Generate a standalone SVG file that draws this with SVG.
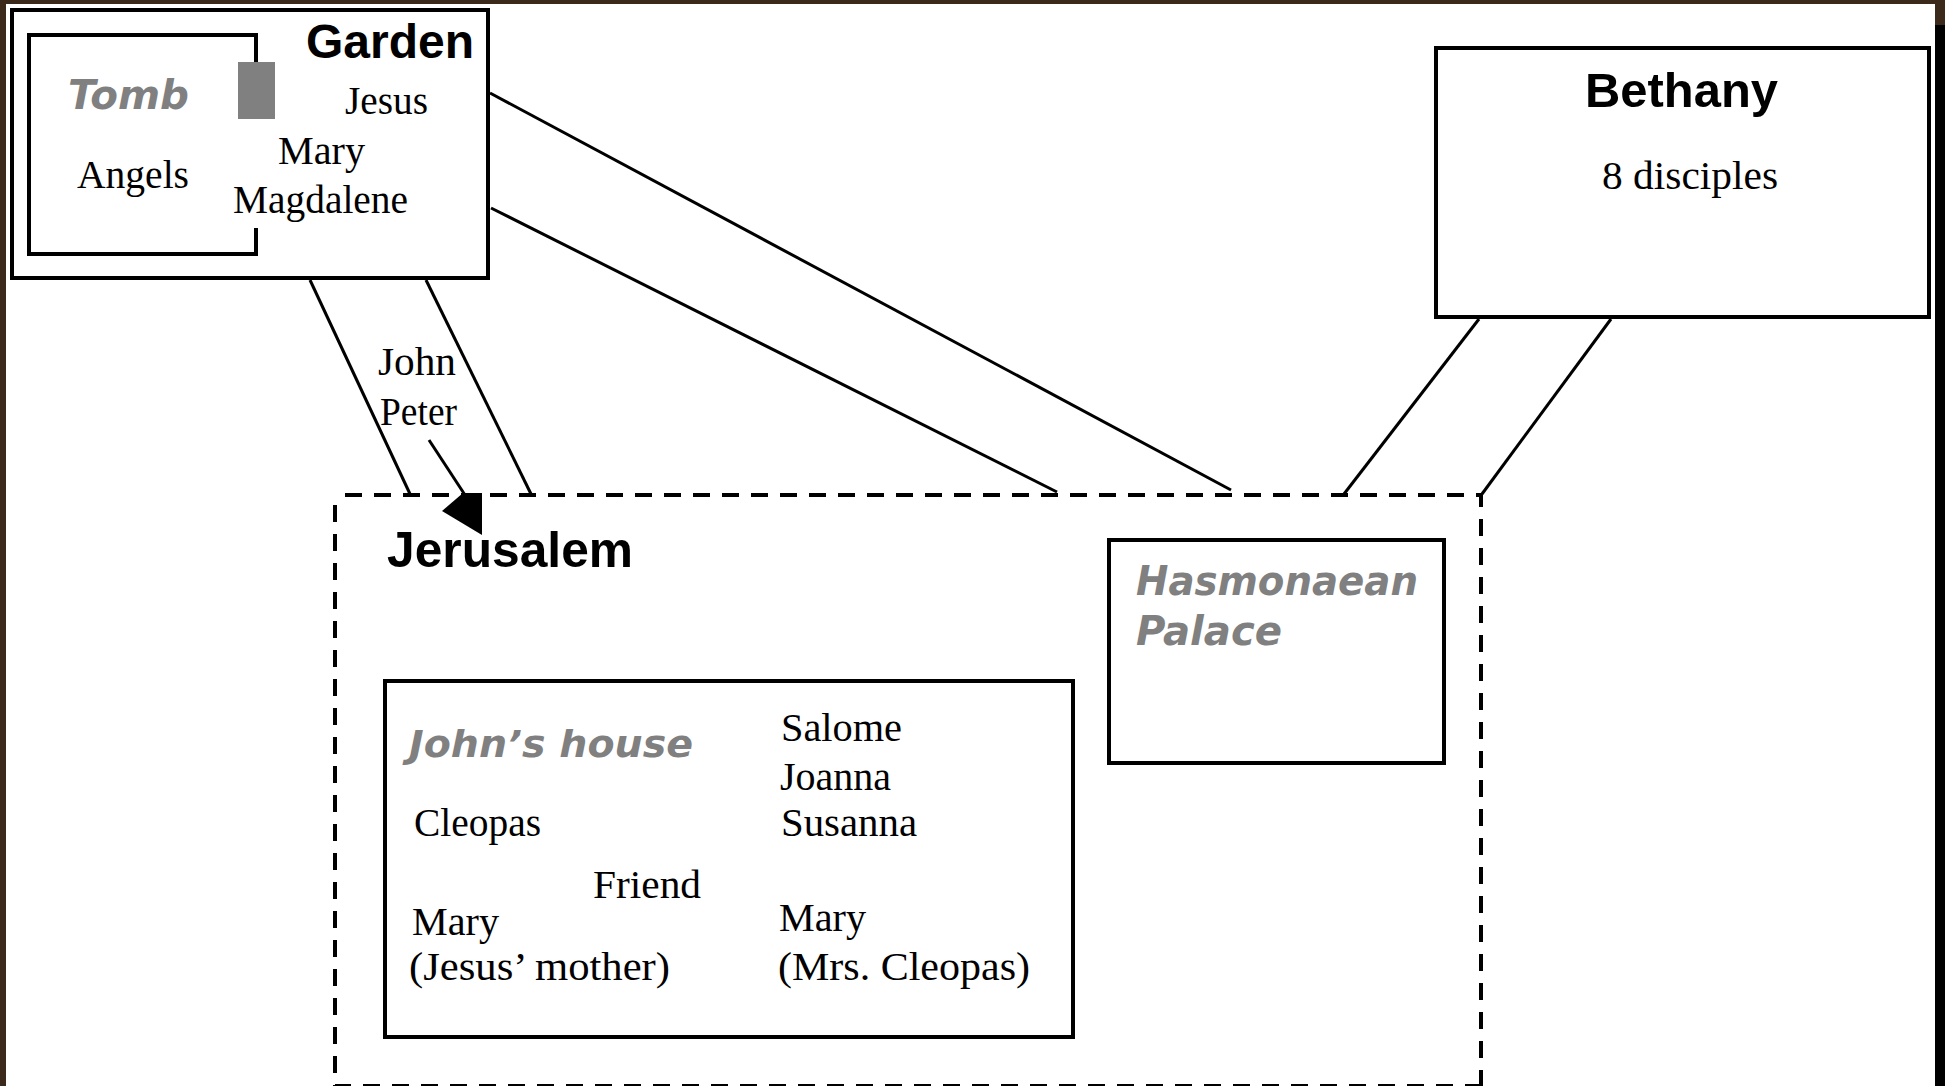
<svg xmlns="http://www.w3.org/2000/svg" width="1945" height="1086" viewBox="0 0 1945 1086">
<style>
.box{fill:none;stroke:#000;stroke-width:4}
.conn{fill:none;stroke:#000;stroke-width:3}
.dash{fill:none;stroke:#000;stroke-width:4;stroke-dasharray:17 12}
.title{font-family:"Liberation Sans",Arial,sans-serif;font-weight:bold;fill:#000}
.gray{font-family:"DejaVu Sans","Liberation Sans",sans-serif;font-weight:bold;font-style:italic;fill:#808080}
.lbl{font-family:"Liberation Serif","Times New Roman",serif;font-size:40px;fill:#000}
</style>
<rect x="0" y="0" width="1945" height="1086" fill="#3b2a1c"/>
<rect x="6" y="4" width="1929" height="1082" fill="#fff"/>
<rect x="1935" y="25" width="10" height="1061" fill="#000"/>

<g id="connectors">
<line class="conn" x1="490" y1="93" x2="1231" y2="490"/>
<line class="conn" x1="491" y1="208" x2="1057" y2="492"/>
<line class="conn" x1="310" y1="280" x2="410" y2="494"/>
<line class="conn" x1="426" y1="280" x2="531" y2="494"/>
<line class="conn" x1="1479" y1="319" x2="1344" y2="494"/>
<line class="conn" x1="1611" y1="319" x2="1482" y2="494"/>
<line class="conn" x1="429" y1="440" x2="465" y2="495"/>
<polygon points="442,511 463,493 482,493 482,535" fill="#000"/>
</g>

<g id="garden">
<rect class="box" x="12" y="10" width="476" height="268"/>
<text class="title" x="306" y="58" font-size="48" textLength="168" lengthAdjust="spacingAndGlyphs">Garden</text>
<text class="lbl" x="345" y="114" textLength="83" lengthAdjust="spacingAndGlyphs">Jesus</text>
<text class="lbl" x="278" y="164" textLength="87" lengthAdjust="spacingAndGlyphs">Mary</text>
<text class="lbl" x="233" y="213" textLength="175" lengthAdjust="spacingAndGlyphs">Magdalene</text>
</g>

<g id="tomb">
<path class="box" d="M256,62 V35 H29 V254 H256 V228"/>
<rect x="238" y="62" width="37" height="57" fill="#808080"/>
<text class="gray" x="68" y="109" font-size="40" textLength="121" lengthAdjust="spacingAndGlyphs">Tomb</text>
<text class="lbl" x="77" y="188" textLength="112" lengthAdjust="spacingAndGlyphs">Angels</text>
</g>

<g id="john-peter">
<text class="lbl" x="378" y="375" textLength="78" lengthAdjust="spacingAndGlyphs">John</text>
<text class="lbl" x="380" y="425" textLength="77" lengthAdjust="spacingAndGlyphs">Peter</text>
</g>

<g id="bethany">
<rect class="box" x="1436" y="48" width="493" height="269"/>
<text class="title" x="1585" y="107" font-size="49" textLength="193" lengthAdjust="spacingAndGlyphs">Bethany</text>
<text class="lbl" x="1602" y="189" textLength="176" lengthAdjust="spacingAndGlyphs">8 disciples</text>
</g>

<g id="jerusalem">
<path class="dash" d="M335,495 H1481 V1086 M335,495 V1086 H1481" style="stroke-dashoffset:19"/>
<text class="title" x="387" y="567" font-size="50" textLength="246" lengthAdjust="spacingAndGlyphs">Jerusalem</text>
</g>

<g id="hasmonaean-palace">
<rect class="box" x="1109" y="540" width="335" height="223"/>
<text class="gray" x="1136" y="595" font-size="40" textLength="282" lengthAdjust="spacingAndGlyphs">Hasmonaean</text>
<text class="gray" x="1136" y="645" font-size="40" textLength="146" lengthAdjust="spacingAndGlyphs">Palace</text>
</g>

<g id="johns-house">
<rect class="box" x="385" y="681" width="688" height="356"/>
<text class="gray" x="409" y="757" font-size="38" textLength="284" lengthAdjust="spacingAndGlyphs">John’s house</text>
<text class="lbl" x="781" y="741" textLength="121" lengthAdjust="spacingAndGlyphs">Salome</text>
<text class="lbl" x="780" y="790" textLength="111" lengthAdjust="spacingAndGlyphs">Joanna</text>
<text class="lbl" x="781" y="836" textLength="136" lengthAdjust="spacingAndGlyphs">Susanna</text>
<text class="lbl" x="414" y="836" textLength="127" lengthAdjust="spacingAndGlyphs">Cleopas</text>
<text class="lbl" x="593" y="898" textLength="108" lengthAdjust="spacingAndGlyphs">Friend</text>
<text class="lbl" x="412" y="935" textLength="87" lengthAdjust="spacingAndGlyphs">Mary</text>
<text class="lbl" x="409" y="980" textLength="261" lengthAdjust="spacingAndGlyphs">(Jesus’ mother)</text>
<text class="lbl" x="779" y="931" textLength="87" lengthAdjust="spacingAndGlyphs">Mary</text>
<text class="lbl" x="778" y="980" textLength="252" lengthAdjust="spacingAndGlyphs">(Mrs. Cleopas)</text>
</g>
</svg>
